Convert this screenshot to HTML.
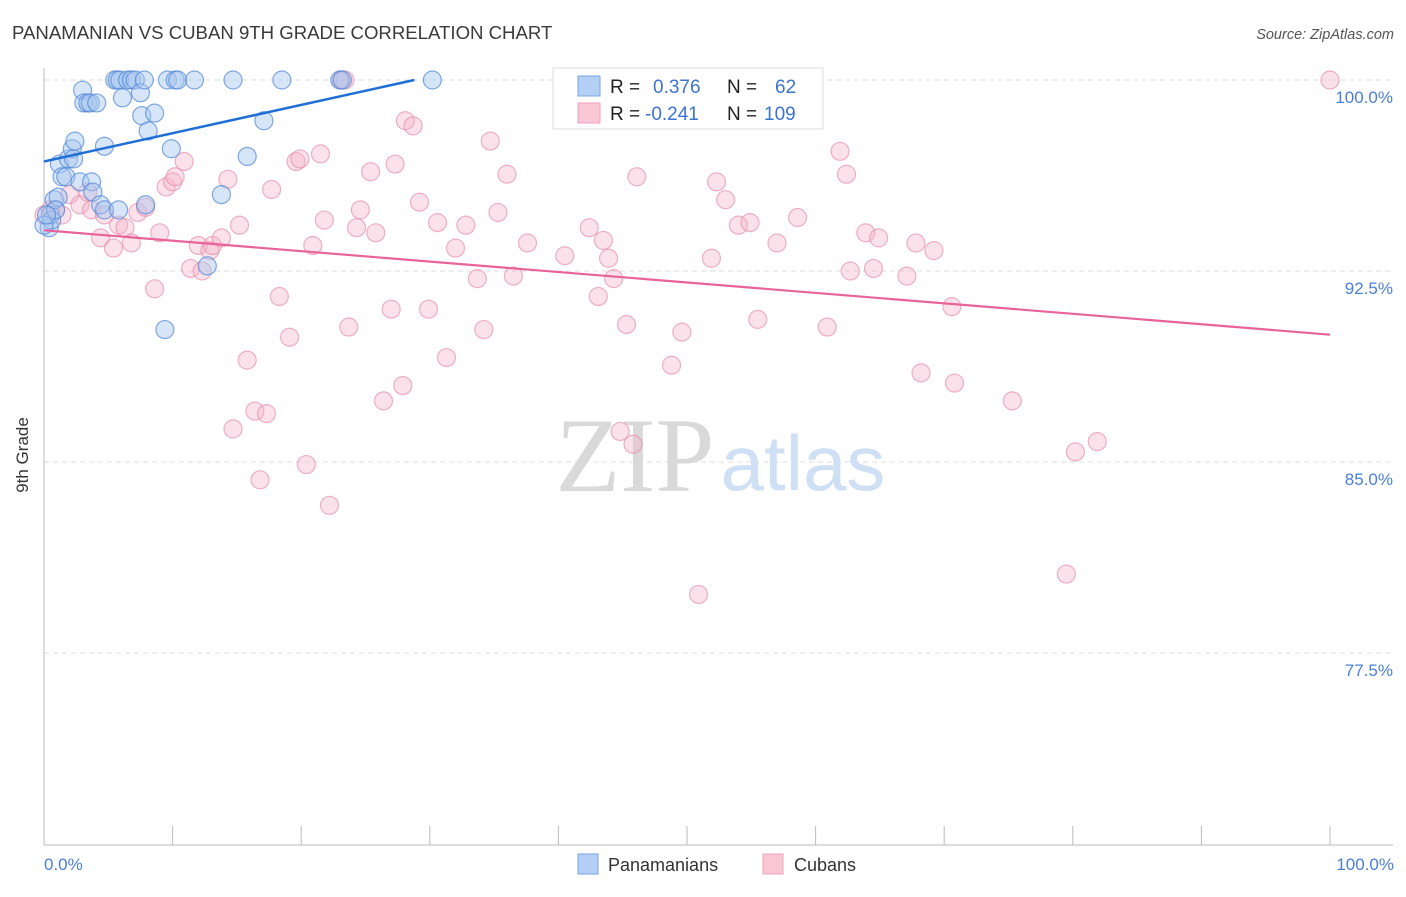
<!DOCTYPE html>
<html><head><meta charset="utf-8"><style>
body{margin:0;background:#fff;font-family:"Liberation Sans",sans-serif;}
svg text{font-family:"Liberation Sans",sans-serif;}
</style></head><body>
<svg id="chart" width="1406" height="892" viewBox="0 0 1406 892">
<text x="12" y="39" font-size="18.6" fill="#3a3a3a">PANAMANIAN VS CUBAN 9TH GRADE CORRELATION CHART</text>
<text x="1394" y="39" font-size="14.5" fill="#555" font-style="italic" text-anchor="end">Source: ZipAtlas.com</text>
<g id="grid"></g>
<g>
<text x="635" y="491" font-size="106" fill="#d9d9d9" text-anchor="middle" style="font-family:'Liberation Serif',serif">ZIP</text>
<text x="803" y="490" font-size="78" fill="#cfe0f4" text-anchor="middle">atlas</text>
</g>
<g id="axes"></g>
<g id="pts"></g>
<g id="trend"></g>
<text x="28" y="455" font-size="17" fill="#333" text-anchor="middle" transform="rotate(-90 28 455)">9th Grade</text>
<text x="44" y="870" font-size="17" fill="#4a7fd6">0.0%</text>
<text x="1394" y="870" font-size="17" fill="#4a7fd6" text-anchor="end">100.0%</text>
<g>
<rect x="553" y="68" width="270" height="61" fill="#fff" stroke="#dcdcdc"/>
<rect x="578" y="76" width="22" height="20" fill="#b3cff3" stroke="#7aa6e6"/>
<rect x="578" y="103" width="22" height="20" fill="#f9c6d6" stroke="#eda3bd"/>
<text x="610" y="93" font-size="19" fill="#222">R =</text>
<text x="653" y="93" font-size="19" fill="#3d73d0">0.376</text>
<text x="727" y="93" font-size="19" fill="#222">N =</text>
<text x="775" y="93" font-size="19" fill="#3d73d0">62</text>
<text x="610" y="120" font-size="19" fill="#222">R =</text>
<text x="645" y="120" font-size="19" fill="#3d73d0">-0.241</text>
<text x="727" y="120" font-size="19" fill="#222">N =</text>
<text x="764" y="120" font-size="19" fill="#3d73d0">109</text>
</g>
<g>
<rect x="578" y="854" width="20" height="20" fill="#b3cff3" stroke="#7aa6e6"/>
<text x="608" y="871" font-size="18" fill="#333">Panamanians</text>
<rect x="763" y="854" width="20" height="20" fill="#f9c6d6" stroke="#eda3bd"/>
<text x="794" y="871" font-size="18" fill="#333">Cubans</text>
</g>
</svg>
<script>
const yTicks=[100,92.5,85,77.5];
const yTickLabels=["100.0%","92.5%","85.0%","77.5%"];
const xTicks=[0,10,20,30,40,50,60,70,80,90,100];
const blueX=[0.4,0.5,0.6,0.8,1.1,0.9,1.2,1.4,1.7,1.9,2.2,2.3,2.4,2.8,3.0,3.1,3.4,3.7,3.6,3.8,4.1,4.7,4.4,4.7,5.5,5.7,5.9,5.8,6.1,6.5,6.8,7.1,7.5,7.6,7.8,8.1,8.6,7.9,9.4,9.6,9.9,10.2,10.4,11.7,12.7,13.8,14.7,15.8,17.1,18.5,23.0,23.2,30.2,41.7,0,0.2];
const blueY=[94.2,94.7,94.5,95.3,95.4,94.9,96.7,96.2,96.2,96.9,97.3,96.9,97.6,96.0,99.6,99.1,99.1,96.0,99.1,95.6,99.1,97.4,95.1,94.9,100,100,100,94.9,99.3,100,100,100,99.5,98.6,100,98.0,98.7,95.1,90.2,100,97.3,100,100,100,92.7,95.5,100,97.0,98.4,100,100,100,100,100,94.3,94.7];
const pinkX=[0.0,0.5,0.9,1.4,2.0,2.8,3.4,3.7,4.4,4.7,5.4,5.8,6.3,6.8,7.3,7.9,8.6,9.0,9.5,10.0,10.2,10.9,11.4,12.0,12.3,12.9,13.1,13.8,14.3,14.7,15.2,15.8,16.4,16.8,17.3,17.7,18.3,19.1,19.6,19.9,20.4,20.9,21.5,21.8,22.2,23.1,23.4,23.7,24.3,24.6,25.4,25.8,26.4,27.0,27.3,27.9,28.1,28.7,29.2,29.9,30.6,31.3,32.0,32.8,33.7,34.2,34.7,35.3,36.0,36.5,37.6,40.5,42.4,43.1,43.5,43.9,44.3,44.8,45.3,45.8,46.1,48.8,49.6,50.9,51.9,52.3,53.0,54.0,54.9,55.5,57.0,58.6,60.9,61.9,62.4,62.7,63.9,64.5,64.9,67.1,67.8,68.2,69.2,70.6,70.8,75.3,79.5,80.2,81.9,100];
const pinkY=[94.7,94.9,94.9,94.7,95.5,95.1,95.6,94.9,93.8,94.7,93.4,94.3,94.2,93.6,94.8,95.0,91.8,94.0,95.8,96.0,96.2,96.8,92.6,93.5,92.5,93.3,93.5,93.8,96.1,86.3,94.3,89.0,87.0,84.3,86.9,95.7,91.5,89.9,96.8,96.9,84.9,93.5,97.1,94.5,83.3,100,100,90.3,94.2,94.9,96.4,94.0,87.4,91.0,96.7,88.0,98.4,98.2,95.2,91.0,94.4,89.1,93.4,94.3,92.2,90.2,97.6,94.8,96.3,92.3,93.6,93.1,94.2,91.5,93.7,93.0,92.2,86.2,90.4,85.7,96.2,88.8,90.1,79.8,93.0,96.0,95.3,94.3,94.4,90.6,93.6,94.6,90.3,97.2,96.3,92.5,94.0,92.6,93.8,92.3,93.6,88.5,93.3,91.1,88.1,87.4,80.6,85.4,85.8,100];
const blueTrendX=[0,28.8];
const blueTrendY=[96.8,100];
const pinkTrendX=[0,100];
const pinkTrendY=[94.1,90.0];

const NS="http://www.w3.org/2000/svg";
const X0=44,X1=1330,Y100=80,PXPER=191/7.5;
const sx=v=>X0+(X1-X0)*v/100;
const sy=v=>Y100+(100-v)*PXPER;
function mk(tag,attrs,parent){const e=document.createElementNS(NS,tag);for(const k in attrs)e.setAttribute(k,attrs[k]);parent.appendChild(e);return e;}
const grid=document.getElementById('grid');
yTicks.forEach((t,i)=>{
  const l=mk('line',{x1:44,x2:1393,y1:sy(t),y2:sy(t),stroke:'#dedede','stroke-dasharray':'5,4'},grid);
  
  
  const tx=mk('text',{x:1393,y:sy(t)+23,'font-size':17,fill:'#4a7fd6','text-anchor':'end'},grid);
  tx.textContent=yTickLabels[i];
  
  
});
const axes=document.getElementById('axes');
const ya=mk('line',{x1:44,x2:44,y1:68,y2:845,stroke:'#bbb'},axes);


const xa=mk('line',{x1:44,x2:1393,y1:845,y2:845,stroke:'#bbb'},axes);


xTicks.forEach(t=>{
  const l=mk('line',{x1:sx(t),x2:sx(t),y1:826,y2:845,stroke:'#bbb'},axes);
  
  
});
const pts=document.getElementById('pts');
pinkX.forEach((v,i)=>{
  const c=mk('circle',{cx:sx(v),cy:sy(pinkY[i]),r:9,fill:'#f6b3c8','fill-opacity':0.4,stroke:'#e58aaa','stroke-opacity':0.65,'stroke-width':1.2},pts);
  
  
});
blueX.forEach((v,i)=>{
  const c=mk('circle',{cx:sx(v),cy:sy(blueY[i]),r:9,fill:'#a6c6f0','fill-opacity':0.45,stroke:'#4f86d6','stroke-opacity':0.7,'stroke-width':1.2},pts);
  
  
});
const tr=document.getElementById('trend');
const bl=mk('line',{x1:sx(blueTrendX[0]),y1:sy(blueTrendY[0]),x2:sx(blueTrendX[1]),y2:sy(blueTrendY[1]),stroke:'#1f6fd6','stroke-width':2.5},tr);


const pl=mk('line',{x1:sx(pinkTrendX[0]),y1:sy(pinkTrendY[0]),x2:sx(pinkTrendX[1]),y2:sy(pinkTrendY[1]),stroke:'#e8639a','stroke-width':2.2},tr);


</script>
</body></html>
